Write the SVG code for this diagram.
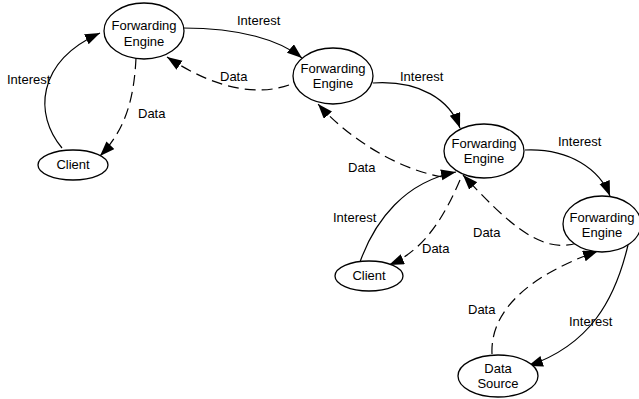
<svg xmlns="http://www.w3.org/2000/svg" width="639" height="399" viewBox="0 0 639 399">
<style>
.node ellipse{fill:#fff;stroke:#000;stroke-width:1.3}
text{font-family:"Liberation Sans",Arial,sans-serif;font-size:13px;fill:#000}
.nt{text-anchor:middle}
.e{fill:none;stroke:#000;stroke-width:1.2;marker-end:url(#ah)}
.d{stroke-dasharray:11,6}
</style>
<defs>
<marker id="ah" markerUnits="userSpaceOnUse" markerWidth="16" markerHeight="12" refX="15" refY="5.5" orient="auto">
<path d="M0,0 L15,5.5 L0,11 z" fill="#000"/>
</marker>
</defs>
<rect width="639" height="399" fill="#fff"/>
<g id="connectors">
<path class="e" d="M62,148 C34,115 36,62 100,33"/>
<path class="e d" d="M136,58 C134,100 125,130 100,156"/>
<path class="e" d="M183,28 C240,28 280,40 302,58"/>
<path class="e d" d="M289,85 C260,95 220,92 167,57"/>
<path class="e" d="M373,83 C420,80 450,100 460,128"/>
<path class="e d" d="M443,177 C400,170 350,140 318,104"/>
<path class="e" d="M525,150 C570,148 600,170 610,196"/>
<path class="e d" d="M577,243 C540,255 505,220 463,175"/>
<path class="e" d="M360,262 C375,220 405,182 456,172"/>
<path class="e d" d="M460,180 C445,215 425,250 389,265"/>
<path class="e" d="M628,245 C615,300 590,345 528,366"/>
<path class="e d" d="M492,354 C490,310 530,275 598,251"/>
<text x="7" y="84">Interest</text>
<text x="138" y="118">Data</text>
<text x="237" y="25">Interest</text>
<text x="220" y="81">Data</text>
<text x="400" y="81">Interest</text>
<text x="348" y="172">Data</text>
<text x="558" y="146">Interest</text>
<text x="473" y="237">Data</text>
<text x="333" y="222">Interest</text>
<text x="422" y="253">Data</text>
<text x="569" y="326">Interest</text>
<text x="468" y="314">Data</text>
</g>
<g id="fe1" class="node"><ellipse cx="144" cy="31" rx="40" ry="28"/><text class="nt" x="144" y="30">Forwarding</text><text class="nt" x="144" y="46">Engine</text></g>
<g id="fe2" class="node"><ellipse cx="333" cy="76" rx="40" ry="28"/><text class="nt" x="333" y="73">Forwarding</text><text class="nt" x="333" y="88">Engine</text></g>
<g id="fe3" class="node"><ellipse cx="484" cy="151" rx="40" ry="27"/><text class="nt" x="484" y="148">Forwarding</text><text class="nt" x="484" y="163">Engine</text></g>
<g id="fe4" class="node"><ellipse cx="602" cy="224" rx="39" ry="28"/><text class="nt" x="602" y="222">Forwarding</text><text class="nt" x="602" y="237">Engine</text></g>
<g id="client1" class="node"><ellipse cx="73" cy="165" rx="35" ry="15"/><text class="nt" x="73" y="169">Client</text></g>
<g id="client2" class="node"><ellipse cx="369" cy="276" rx="34" ry="15"/><text class="nt" x="369" y="280">Client</text></g>
<g id="datasource" class="node"><ellipse cx="498" cy="376" rx="40" ry="21"/><text class="nt" x="498" y="373">Data</text><text class="nt" x="498" y="388">Source</text></g>
</svg>
